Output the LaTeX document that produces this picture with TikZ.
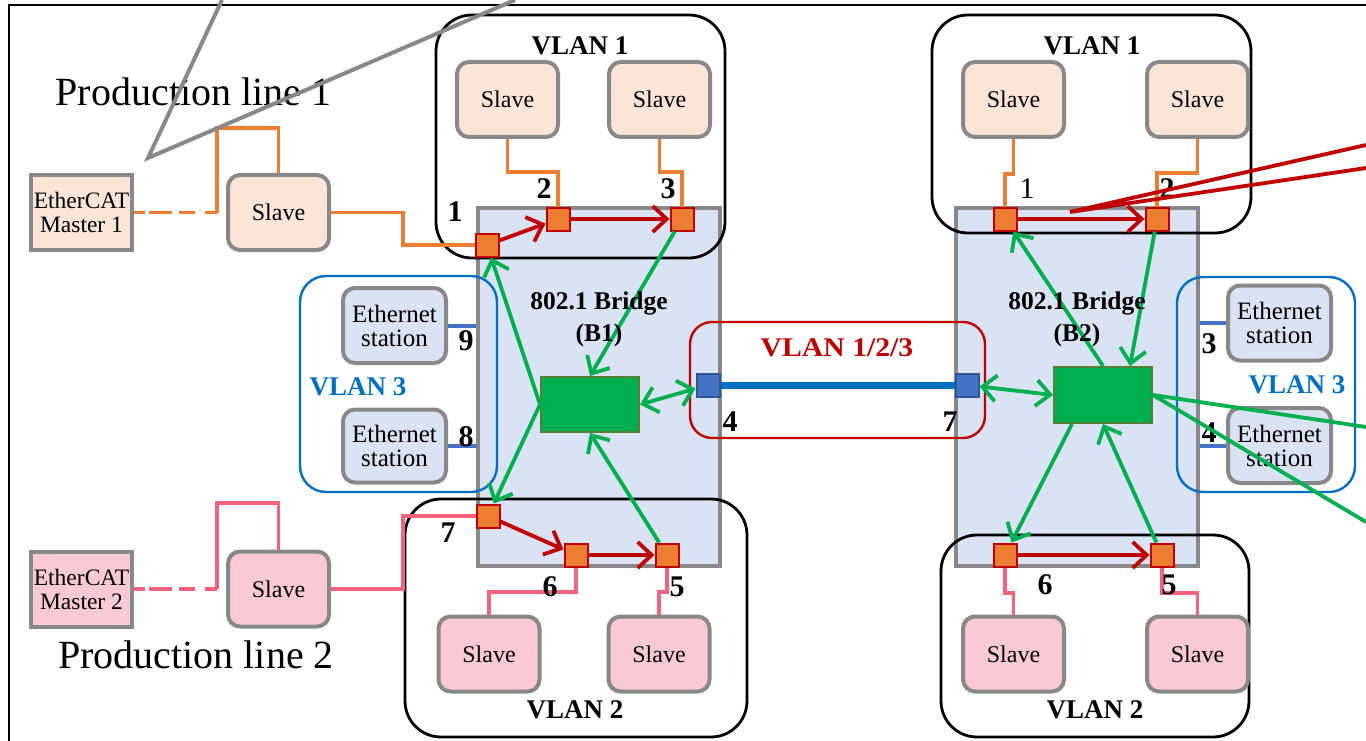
\documentclass[tikz,border=0pt]{standalone}
\usepackage{fontspec}
\setmainfont{Liberation Serif}
\usetikzlibrary{arrows.meta,calc}
\definecolor{peach}{HTML}{FBE5D6}
\definecolor{pinkf}{HTML}{F9CAD3}
\definecolor{boxgray}{HTML}{888888}
\definecolor{bridgef}{HTML}{DAE3F3}
\definecolor{orl}{HTML}{ED7D31}
\definecolor{pkl}{HTML}{F4627B}
\definecolor{darkred}{HTML}{C00000}
\definecolor{grn}{HTML}{00B050}
\definecolor{grnb}{HTML}{548235}
\definecolor{vblue}{HTML}{0070C0}
\definecolor{pblue}{HTML}{4472C4}
\definecolor{pblueb}{HTML}{2F5597}
\tikzset{
  dev/.style={draw=boxgray, line width=4pt, rounded corners=12pt, inner sep=0pt,
    minimum width=101pt, minimum height=75pt, align=center,
    font=\fontsize{24}{26}\selectfont},
  slaveO/.style={dev, fill=peach},
  slaveP/.style={dev, fill=pinkf},
  station/.style={dev, fill=bridgef, minimum width=103pt, font=\fontsize{25}{28}\selectfont},
  master/.style={dev, rounded corners=0pt, font=\fontsize{23.5}{26}\selectfont},
  bridge/.style={draw=boxgray, fill=bridgef, line width=4.5pt, inner sep=0pt,
    minimum width=242pt, minimum height=358pt},
  gbox/.style={draw=grnb, fill=grn, line width=2pt, minimum width=98pt, minimum height=55pt, inner sep=0pt},
  oport/.style={draw=darkred, fill=orl, line width=2pt, minimum size=23pt, inner sep=0pt},
  bport/.style={draw=pblueb, fill=pblue, line width=2pt, minimum size=23pt, inner sep=0pt},
  vlan/.style={draw=black, line width=2.8pt, rounded corners=36pt},
  vlan3/.style={draw=vblue, line width=2.4pt, rounded corners=26pt},
  vlanx/.style={draw=darkred, line width=2.4pt, rounded corners=22pt},
  vlab/.style={font=\bfseries\fontsize{27}{28}\selectfont, inner sep=0pt},
  num/.style={font=\bfseries\fontsize{30}{30}\selectfont, inner sep=0pt},
  numr/.style={font=\fontsize{30}{30}\selectfont, inner sep=0pt},
  bridgelab/.style={font=\bfseries\fontsize{25.5}{32}\selectfont, align=center, inner sep=0pt},
  oline/.style={draw=orl, line width=3.8pt},
  pline/.style={draw=pkl, line width=3.8pt},
  sline/.style={draw=pblue, line width=4pt},
  dashpat/.style={dash pattern=on 11pt off 4pt on 23pt off 7pt on 16pt off 10pt on 14pt},
  rarr/.style={draw=darkred, line width=3.8pt, -{Straight Barb[length=14pt,width=26pt]}},
  garr/.style={draw=grn, line width=3.8pt, -{Straight Barb[length=14pt,width=26pt]}},
  garr2/.style={draw=grn, line width=3.8pt, {Straight Barb[length=14pt,width=26pt]}-{Straight Barb[length=14pt,width=26pt]}},
  prod/.style={font=\fontsize{40}{44}\selectfont, inner sep=0pt},
}
\begin{document}
\begin{tikzpicture}[x=1pt,y=-1pt]
\useasboundingbox (0,0) rectangle (1366,741);

% bridges
\node[bridge] (B1) at (599,387) {};
\node[bridge] (B2) at (1077,387) {};

% VLAN groups
\draw[vlan] (436,15) rectangle (725,258);
\draw[vlan] (932,15) rectangle (1251,233);
\draw[vlan] (405,499) rectangle (747,737);
\draw[vlan] (941,535) rectangle (1249,737);
\draw[vlan3] (300,276) rectangle (497,492);
\draw[vlan3] (1177,277) rectangle (1355,492);
\draw[vlanx] (690,322) rectangle (985,438);

% devices
\node[master, fill=peach] (m1) at (81.5,212.5) {EtherCAT\\[-2pt]Master 1};
\node[slaveO] (sp1) at (278.5,212.5) {Slave};
\node[master, fill=pinkf] (m2) at (81.5,589) {EtherCAT\\[-2pt]Master 2};
\node[slaveP] (sp2) at (278.5,589) {Slave};

\node[slaveO] (s11) at (507.5,99.5) {Slave};
\node[slaveO] (s12) at (659.5,99.5) {Slave};
\node[slaveO] (s21) at (1013.5,99.5) {Slave};
\node[slaveO] (s22) at (1197.5,99.5) {Slave};

\node[slaveP] (b11) at (489,654) {Slave};
\node[slaveP] (b12) at (659,654) {Slave};
\node[slaveP] (c21) at (1013.5,654) {Slave};
\node[slaveP] (c22) at (1197.5,654) {Slave};

\node[station] (e1) at (394.5,325.5) {Ethernet\\[-4pt]station};
\node[station, minimum height=73pt] (e2) at (394.5,446) {Ethernet\\[-4pt]station};
\node[station] (f1) at (1279.5,323) {Ethernet\\[-4pt]station};
\node[station] (f2) at (1279.5,445.5) {Ethernet\\[-4pt]station};

% bridge internals
\node[gbox] (g1) at (590,404.5) {};
\node[gbox, minimum height=56pt] (g2) at (1103,395) {};

% station links
\draw[sline] (e1.east) -- (e1.east -| B1.west);
\draw[sline] (e2.east) -- (e2.east -| B1.west);
\draw[sline] (f1.west) -- (f1.west -| B2.east);
\draw[sline] (f2.west) -- (f2.west -| B2.east);

% ports
\node[oport] (p1) at (487,245) {};
\node[oport] (p2) at (558,219) {};
\node[oport] (p3) at (682,219) {};
\node[oport] (q1) at (1005,219) {};
\node[oport] (q2) at (1157,219) {};
\node[oport] (p7) at (488,516) {};
\node[oport] (p6) at (576,555) {};
\node[oport] (p5) at (667,555) {};
\node[oport] (q6) at (1005,555) {};
\node[oport] (q5) at (1162,555) {};

% trunk
\draw[draw=vblue, line width=7pt] (708,385) -- (967,385);
\node[bport] (p4) at (708,385) {};
\node[bport] (q7) at (967,385) {};

% orange links
\draw[oline, dashpat] (m1.east) -- (217,212.5);
\draw[oline] (217,212.5) |- (278.5,128) -- (sp1.north);
\draw[oline] (sp1.east) -- (403,212.5) |- (p1.west);
\draw[oline] (s11.south) -- (507.5,172) -| (p2.north);
\draw[oline] (s12.south) -- (659.5,172) -| (p3.north);
\draw[oline] (s21.south) -- (1013.5,174) -| (q1.north);
\draw[oline] (s22.south) -- (1197.5,173) -| (q2.north);

% pink links
\draw[pline, dashpat] (m2.east) -- (217,589);
\draw[pline] (217,589) |- (278.5,503) -- (sp2.north);
\draw[pline] (sp2.east) -- (403,589) |- (p7.west);
\draw[pline] (p6.south) -- (576,592) -| (b11.north);
\draw[pline] (p5.south) -- (667,592) -| (b12.north);
\draw[pline] (q6.south) -- (1005,593) -| (c21.north);
\draw[pline] (q5.south) -- (1162,593) -| (c22.north);

% red forwarding arrows
\draw[rarr] (p1) -- (p2);
\draw[rarr] (p2) -- (p3);
\draw[rarr] (q1) -- (q2);
\draw[rarr] (p7) -- (p6);
\draw[rarr] (p6) -- (p5);
\draw[rarr] (q6) -- (q5);

% green arrows B1
\draw[garr] (g1.west) -- (p1);
\draw[garr] (p3) -- (g1.north);
\draw[garr] (g1.west) -- (p7);
\draw[garr] (p5) -- (g1.south);
\draw[garr2] (g1.east) -- (p4);
% green arrows B2
\draw[garr] (g2.north) -- (q1);
\draw[garr] (q2) -- ([xshift=27pt]g2.north);
\draw[garr2] (q7) -- (g2.west);
\draw[garr] ([xshift=-31pt]g2.south) -- (q6);
\draw[garr] (q5) -- (g2.south);

% labels
\node[vlab] (l11) at (580,46) {VLAN 1};
\node[vlab] (l12) at (1092,46) {VLAN 1};
\node[vlab] (l21) at (575,710) {VLAN 2};
\node[vlab] (l22) at (1095,710) {VLAN 2};
\node[vlab, text=vblue] (l31) at (358,387) {VLAN 3};
\node[vlab, text=vblue] (l32) at (1297,385) {VLAN 3};
\node[vlab, text=darkred] (lx) at (837,348) {\scalebox{1.1}[1]{VLAN 1/2/3}};
\node[bridgelab] (bl1) at (599,319) {802.1 Bridge\\(B1)};
\node[bridgelab] (bl2) at (1077,319) {802.1 Bridge\\(B2)};

\node[prod] (pl1) at (193.5,92) {Production line 1};
\node[prod] (pl2) at (196,655) {Production line 2};

\node[num] (n1) at (455,212) {1};
\node[num] (n2) at (544,189) {2};
\node[num] (n3) at (668,189) {3};
\node[numr] (m1n) at (1027,189) {1};
\node[num] (m2n) at (1167,189) {2};
\node[num] (n9) at (466,341) {9};
\node[num] (n8) at (466,437) {8};
\node[num] (n4) at (730,422) {4};
\node[num] (n7b) at (950,422) {7};
\node[num] (n7) at (448,533) {7};
\node[num] (n6) at (550,587) {6};
\node[num] (n5) at (677,587) {5};
\node[num] (k6) at (1045,585) {6};
\node[num] (k5) at (1169,585) {5};
\node[num] (k3) at (1209,344) {3};
\node[num] (k4) at (1209,433) {4};

% frame
\draw[line width=2.2pt] (9,741) -- (9,5) -- (1366,5);

% stray lines
\coordinate (ga) at (222,0);
\coordinate (gb) at (148,158);
\coordinate (gc) at (515,0);
\draw[draw=boxgray, line width=4pt] (ga) -- (gb) -- (gc);
\coordinate (ra) at (1070,212);
\coordinate (rb) at (1366,145);
\coordinate (rc) at (1366,168);
\draw[draw=darkred, line width=3.8pt] (rb) -- (ra) -- (rc);
\coordinate (gra) at (1366,427);
\coordinate (grb) at (1366,522);
\draw[draw=grn, line width=3.8pt] (gra) -- (g2.east) -- (grb);
\end{tikzpicture}
\end{document}
